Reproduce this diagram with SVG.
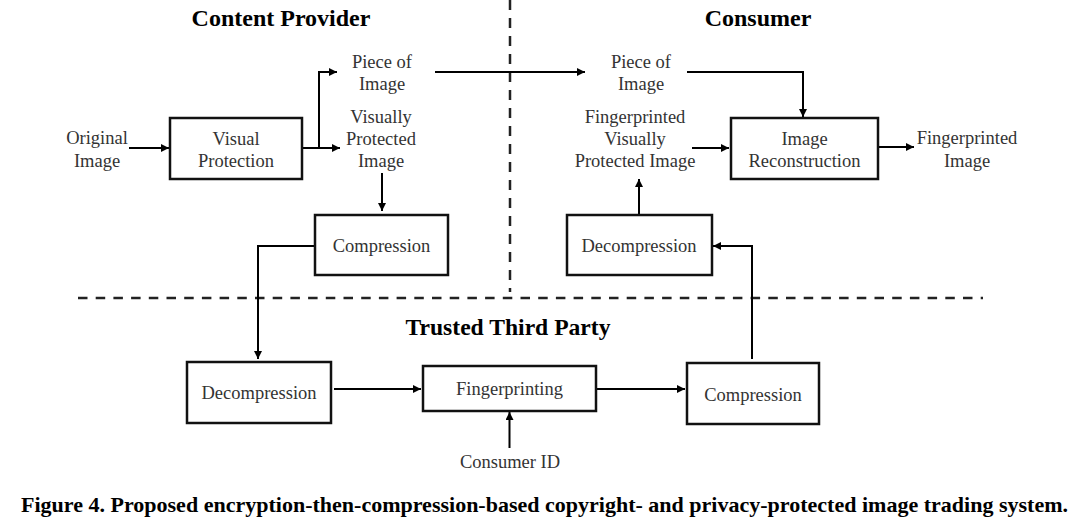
<svg xmlns="http://www.w3.org/2000/svg" width="1092" height="521" viewBox="0 0 1092 521">
<defs>
<marker id="ah" viewBox="0 0 10 10" refX="10" refY="5" markerWidth="9" markerHeight="8" markerUnits="userSpaceOnUse" orient="auto">
<path d="M0,0 L10,5 L0,10 z" fill="#000"/>
</marker>
<style>
.box{fill:#fff;stroke:#111;stroke-width:2.5}
.lbl{font-family:"Liberation Serif","Times New Roman",serif;font-size:18.5px;fill:#333;text-anchor:middle}
.ttl{font-family:"Liberation Serif","Times New Roman",serif;font-size:24px;font-weight:bold;fill:#000;text-anchor:middle}
.cap{font-family:"Liberation Serif","Times New Roman",serif;font-size:22px;font-weight:bold;fill:#000;text-anchor:middle}
.con{fill:none;stroke:#000;stroke-width:2}
.arr{marker-end:url(#ah)}
.dash{fill:none;stroke:#222;stroke-width:2.5}
</style>
</defs>
<rect width="1092" height="521" fill="#fff"/>
<g id="dividers">
<path class="dash" d="M78,298 H983" stroke-dasharray="9.5 8.2"/>
<path class="dash" d="M510,0 V292" stroke-dasharray="10 8"/>
</g>
<g id="titles">
<text class="ttl" x="281" y="26">Content Provider</text>
<text class="ttl" x="758" y="26">Consumer</text>
<text class="ttl" x="508" y="335" textLength="205" lengthAdjust="spacingAndGlyphs">Trusted Third Party</text>
</g>
<g id="connectors">
<path class="con arr" d="M129,148 H169"/>
<path class="con arr" d="M303,148 H340"/>
<path class="con arr" d="M319,148 V72 H337"/>
<path class="con arr" d="M435,72 H585"/>
<path class="con arr" d="M687,72 H803 V117"/>
<path class="con arr" d="M692,148 H729"/>
<path class="con arr" d="M879,147 H914"/>
<path class="con arr" d="M639,214 V179"/>
<path class="con arr" d="M382,173 V211"/>
<path class="con arr" d="M314,246 H258 V359"/>
<path class="con arr" d="M334,389 H421"/>
<path class="con arr" d="M597,389 H685"/>
<path class="con arr" d="M752,359 V246 H713"/>
<path class="con arr" d="M509.5,448 V412"/>
</g>
<g id="original-image">
<text class="lbl" x="97" y="144">Original</text>
<text class="lbl" x="97" y="167">Image</text>
</g>
<g id="visual-protection">
<rect class="box" x="170" y="118" width="132" height="61"/>
<text class="lbl" x="236" y="145">Visual</text>
<text class="lbl" x="236" y="167">Protection</text>
</g>
<g id="piece-of-image-cp">
<text class="lbl" x="382" y="68">Piece of</text>
<text class="lbl" x="382" y="90">Image</text>
</g>
<g id="visually-protected-image">
<text class="lbl" x="381" y="123">Visually</text>
<text class="lbl" x="381" y="145">Protected</text>
<text class="lbl" x="381" y="167">Image</text>
</g>
<g id="compression-cp">
<rect class="box" x="315" y="215" width="133" height="60"/>
<text class="lbl" x="381.5" y="252">Compression</text>
</g>
<g id="piece-of-image-c">
<text class="lbl" x="641" y="68">Piece of</text>
<text class="lbl" x="641" y="90">Image</text>
</g>
<g id="fingerprinted-vpi">
<text class="lbl" x="635" y="123">Fingerprinted</text>
<text class="lbl" x="635" y="145">Visually</text>
<text class="lbl" x="635" y="167">Protected Image</text>
</g>
<g id="image-reconstruction">
<rect class="box" x="731" y="118" width="147" height="61"/>
<text class="lbl" x="804.5" y="145">Image</text>
<text class="lbl" x="804.5" y="167">Reconstruction</text>
</g>
<g id="fingerprinted-image">
<text class="lbl" x="967" y="144">Fingerprinted</text>
<text class="lbl" x="967" y="167">Image</text>
</g>
<g id="decompression-c">
<rect class="box" x="567" y="215" width="145" height="60"/>
<text class="lbl" x="639" y="252">Decompression</text>
</g>
<g id="decompression-ttp">
<rect class="box" x="187" y="362" width="144" height="61"/>
<text class="lbl" x="259" y="399">Decompression</text>
</g>
<g id="fingerprinting">
<rect class="box" x="423" y="366" width="173" height="45"/>
<text class="lbl" x="509.5" y="395">Fingerprinting</text>
</g>
<g id="compression-ttp">
<rect class="box" x="687" y="363" width="132" height="61"/>
<text class="lbl" x="753" y="401">Compression</text>
</g>
<g id="consumer-id">
<text class="lbl" x="510" y="468">Consumer ID</text>
</g>
<g id="caption">
<text class="cap" x="544.5" y="512" textLength="1047" lengthAdjust="spacingAndGlyphs">Figure 4. Proposed encryption-then-compression-based copyright- and privacy-protected image trading system.</text>
</g>
</svg>
